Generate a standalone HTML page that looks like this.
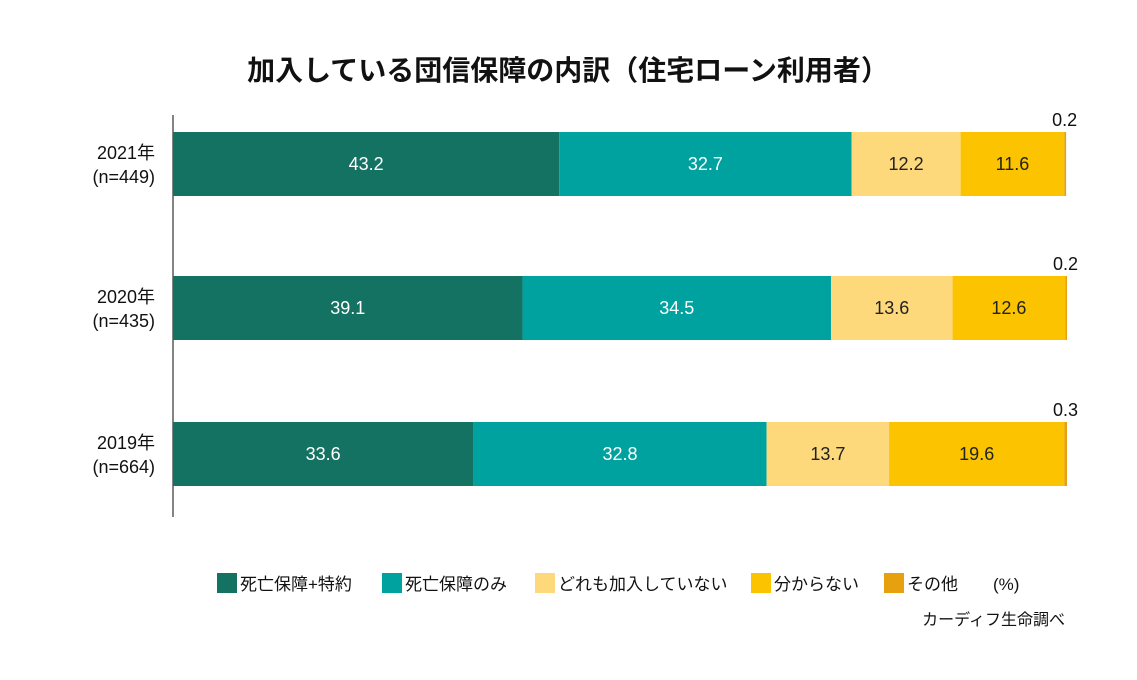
<!DOCTYPE html>
<html><head><meta charset="utf-8">
<style>
html,body{margin:0;padding:0;background:#fff;}
svg{display:block;font-family:"Liberation Sans","Noto Sans CJK JP",sans-serif;}
</style></head>
<body>
<svg id="chart" width="1137" height="680" viewBox="0 0 1137 680">
<text x="568" y="80" text-anchor="middle" font-size="28" font-weight="bold" fill="#111">加入している団信保障の内訳（住宅ローン利用者）</text>
<line x1="173" y1="115" x2="173" y2="517" stroke="#333" stroke-width="1.2"/>
<g id="bars"></g>
<g id="legend"></g>
<text x="1065" y="625" text-anchor="end" font-size="16" fill="#111">カーディフ生命調べ</text>
</svg>
<script>
const years = ["2021年","2020年","2019年"];
const counts = ["(n=449)","(n=435)","(n=664)"];
const seriesNames = ["死亡保障+特約","死亡保障のみ","どれも加入していない","分からない","その他"];
const s1 = [43.2,39.1,33.6];
const s2 = [32.7,34.5,32.8];
const s3 = [12.2,13.6,13.7];
const s4 = [11.6,12.6,19.6];
const s5 = [0.2,0.2,0.3];
const colors = ["#137262","#00a29f","#fdd97b","#fbc300","#e8a10e"];
const textColors = ["#fff","#fff","#222","#222","#222"];
const NS="http://www.w3.org/2000/svg";
const x0=173, plotW=894, barH=64, rowTop=[132,276,422];
const xs=v=>v/100*plotW;
const bars=document.getElementById('bars');
const all=[s1,s2,s3,s4,s5];
function mk(tag,attrs,parent){const e=document.createElementNS(NS,tag);for(const k in attrs)e.setAttribute(k,attrs[k]);parent.appendChild(e);return e;}
years.forEach((y,i)=>{
  const yt=rowTop[i];
  const l1=mk('text',{x:155,y:yt+27,'text-anchor':'end','font-size':18,fill:'#111'},bars);
  l1.textContent=y;
  
  
  const l2=mk('text',{x:155,y:yt+51,'text-anchor':'end','font-size':18,fill:'#111'},bars);
  l2.textContent=counts[i];
  
  
  let cx=x0;
  all.forEach((s,j)=>{
    const w=xs(s[i]);
    const r=mk('rect',{x:cx,y:yt,width:w,height:barH,fill:colors[j]},bars);
    
    
    const t=mk('text',{'font-size':18},bars);
    t.textContent=s[i].toFixed(1);
    if(j<4){t.setAttribute('x',cx+w/2);t.setAttribute('y',yt+barH/2+6);t.setAttribute('text-anchor','middle');t.setAttribute('fill',textColors[j]);}
    else{t.setAttribute('x',cx+w+11);t.setAttribute('y',yt-6);t.setAttribute('text-anchor','end');t.setAttribute('fill','#111');}
    
    
    cx+=w;
  });
});
const leg=document.getElementById('legend');
const legX=[217,382,535,751,884];
seriesNames.forEach((n,j)=>{
  const r=mk('rect',{x:legX[j],y:573,width:20,height:20,fill:colors[j]},leg);
  
  
  const t=mk('text',{x:legX[j]+23,y:590,'font-size':17,fill:'#111'},leg);
  t.textContent=n;
  
  
});
const pct=mk('text',{x:993,y:590,'font-size':17,fill:'#111'},leg);
pct.textContent="(%)";


</script>
</body></html>
